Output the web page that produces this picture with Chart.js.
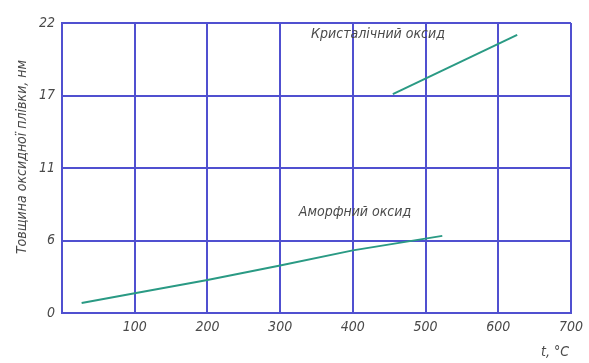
<!DOCTYPE html>
<html>
<head>
<meta charset="utf-8">
<script src="https://cdn.jsdelivr.net/npm/chart.js@4"></script>
<style>
  html, body { margin: 0; padding: 0; background: #fff; }
  #wrap { width: 589px; height: 363px; }
</style>
</head>
<body>
<div id="wrap"><canvas id="chart" width="589" height="363"></canvas></div>
<script>
// Дані
const xTicks = [0, 100, 200, 300, 400, 500, 600, 700];
const yTickLabels = ["0", "6", "11", "17", "22"];

const amorphX = [27, 100, 200, 300, 400, 523];
const amorphY = [0.76, 1.5, 2.5, 3.6, 4.75, 5.85];

const crystX = [455, 626];
const crystY = [16.6, 21.1];

const yTitle = "Товщина оксидної плівки, нм";
const xTitle = "t, °C";
const amorphLabel = "Аморфний оксид";
const crystLabel = "Кристалічний оксид";

const gridColor = "#5050d0";
const lineColor = "#2a9a84";
const textColor = "#4a4a4a";
const fontFamily = "'DejaVu Sans Condensed', 'DejaVu Sans', sans-serif";

const toPoints = (xs, ys) => xs.map((x, i) => ({ x: x, y: ys[i] }));

// Підписи та назви осей
const labelsPlugin = {
  id: "labels",
  afterDraw(chart) {
    const ctx = chart.ctx;
    ctx.save();
    ctx.fillStyle = textColor;
    ctx.font = "italic 14px " + fontFamily;
    ctx.textAlign = "center";
    ctx.textBaseline = "middle";
    ctx.fillText(crystLabel, 378, 34);
    ctx.fillText(amorphLabel, 355, 212);
    ctx.fillText(xTitle, 555, 352);
    ctx.translate(22, 157);
    ctx.rotate(-Math.PI / 2);
    ctx.fillText(yTitle, 0, 0);
    ctx.restore();
  },
};

new Chart(document.getElementById("chart"), {
  type: "scatter",
  data: {
    datasets: [
      {
        label: amorphLabel,
        data: toPoints(amorphX, amorphY),
        showLine: true,
        borderColor: lineColor,
        borderWidth: 2,
        pointRadius: 0,
        tension: 0,
      },
      {
        label: crystLabel,
        data: toPoints(crystX, crystY),
        showLine: true,
        borderColor: lineColor,
        borderWidth: 2,
        pointRadius: 0,
      },
    ],
  },
  options: {
    responsive: false,
    animation: false,
    layout: { padding: { top: 23, right: 18, bottom: 0, left: 0 } },
    plugins: { legend: { display: false }, tooltip: { enabled: false } },
    scales: {
      x: {
        type: "linear",
        min: 0,
        max: 700,
        afterBuildTicks: (s) => { s.ticks = xTicks.map((v) => ({ value: v })); },
        afterFit: (s) => { s.height = 50; },
        grid: { color: gridColor, lineWidth: 2, drawTicks: false },
        border: { color: gridColor, width: 2 },
        ticks: {
          padding: 6,
          color: textColor,
          font: { family: fontFamily, size: 14, style: "italic" },
          maxRotation: 0,
          callback: (v) => (v === 0 ? "" : String(v)),
        },
      },
      y: {
        type: "linear",
        min: 0,
        max: 22,
        afterBuildTicks: (s) => {
          s.ticks = yTickLabels.map((t, i) => ({ value: i * 5.5 }));
        },
        afterFit: (s) => { s.width = 62; },
        grid: { color: gridColor, lineWidth: 2, drawTicks: false },
        border: { color: gridColor, width: 2 },
        ticks: {
          padding: 7,
          color: textColor,
          font: { family: fontFamily, size: 14, style: "italic" },
          callback: (v, i) => yTickLabels[i],
        },
      },
    },
  },
  plugins: [labelsPlugin],
});
</script>
</body>
</html>
